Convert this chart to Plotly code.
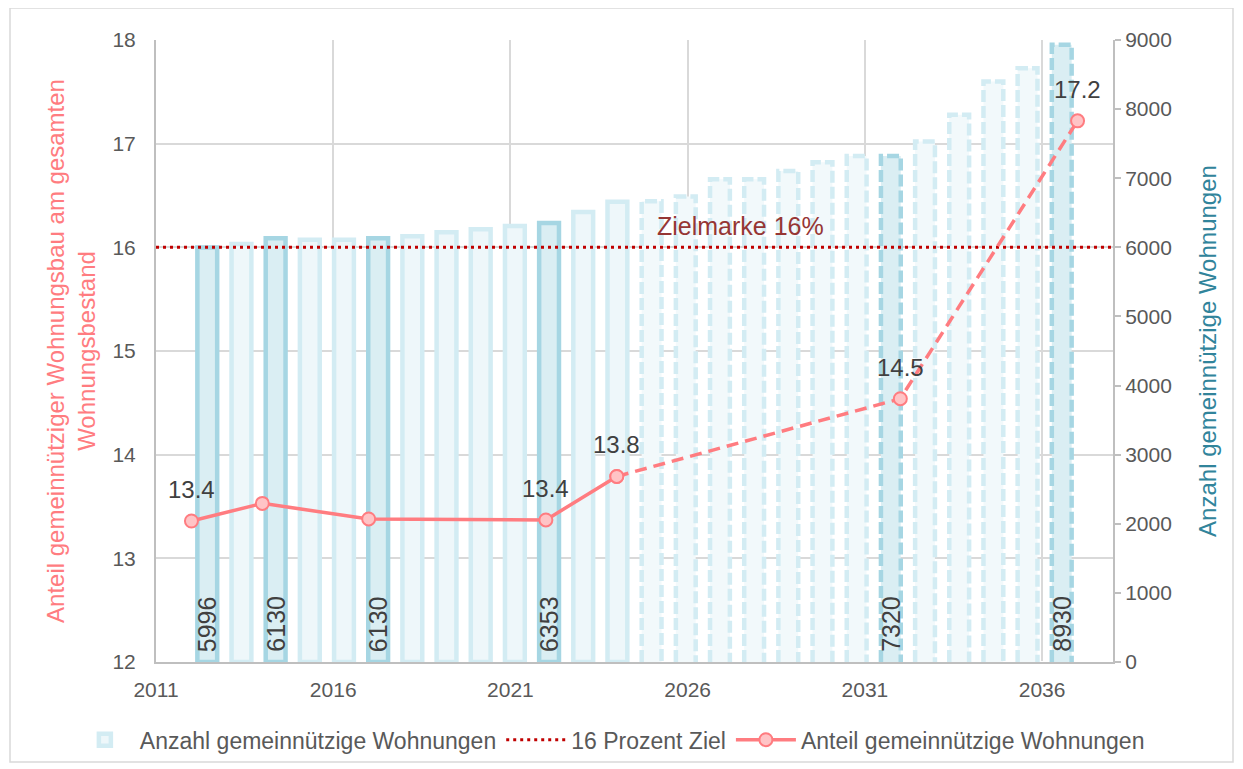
import plotly.graph_objects as go

# ---------------- data ----------------
years = list(range(2012, 2038))
anzahl = [5996, 6050, 6130, 6110, 6110, 6130, 6160, 6220, 6260, 6310, 6353, 6510, 6660,
          6665, 6735, 6985, 6985, 7105, 7230, 7320, 7320, 7530, 7920, 8400, 8590, 8930]
highlight_years = [2012, 2014, 2017, 2022, 2032, 2037]
last_actual_year = 2024

anteil_years = [2012, 2014, 2017, 2022, 2024, 2032, 2037]
anteil = [13.36, 13.53, 13.38, 13.37, 13.79, 14.54, 17.22]
anteil_label_years = [2012, 2022, 2024, 2032, 2037]

ziel_x = [2011, 2038]
ziel_y = [16, 16]

x_ticks = [2011, 2016, 2021, 2026, 2031, 2036]

# ---------------- styles ----------------
FONT = "Liberation Sans, Arial, sans-serif"
GREY_TXT = "#595959"
GRID = "#D9D9D9"
AXIS = "#BFBFBF"
FILL_N = "#EEF7FA"
LINE_N = "#D3ECF3"
FILL_H = "#DAEEF3"
LINE_H = "#A6D6E3"
PINK = "#FF7C80"
CLEAR = "rgba(0,0,0,0)"
BAR_W = 0.58
BAR_LW = 4.5

# page body has an 8px margin -> figure is drawn 8px in from the window edge
W, H = 1235, 761
ML, MT, MR, MB = 148, 32, 130, 107

fig = go.Figure()

def subset(cond):
    xs, ys = [], []
    for y, v in zip(years, anzahl):
        if cond(y):
            xs.append(y)
            ys.append(v)
    return xs, ys

groups = [
    (lambda y: y <= last_actual_year and y not in highlight_years, FILL_N, LINE_N, True, True),
    (lambda y: y <= last_actual_year and y in highlight_years, FILL_H, LINE_H, True, False),
    (lambda y: y > last_actual_year and y not in highlight_years, "#F2F9FB", LINE_N, False, False),
    (lambda y: y > last_actual_year and y in highlight_years, FILL_H, LINE_H, False, False),
]

dashed_outlines = []
for cond, fc, lc, solid, legend in groups:
    xs, ys = subset(cond)
    fig.add_trace(go.Bar(
        x=xs, y=ys, width=BAR_W, xaxis="x", yaxis="y",
        marker=dict(color=fc, line=dict(color=lc, width=BAR_LW if solid else 0)),
        name="Anzahl gemeinnützige Wohnungen", showlegend=legend,
        hoverinfo="x+y",
    ))
    if not solid:
        ox, oy = [], []
        for x, v in zip(xs, ys):
            ox += [x - BAR_W / 2, x - BAR_W / 2, x + BAR_W / 2, x + BAR_W / 2, None]
            oy += [0, v, v, 0, None]
        dashed_outlines.append((ox, oy, lc))

for ox, oy, lc in dashed_outlines:
    fig.add_trace(go.Scatter(
        x=ox, y=oy, xaxis="x", yaxis="y", mode="lines",
        line=dict(color=lc, width=BAR_LW, dash="12px,4px"),
        showlegend=False, hoverinfo="skip",
    ))

# target line
fig.add_trace(go.Scatter(
    x=ziel_x, y=ziel_y, xaxis="x2", yaxis="y2", mode="lines",
    line=dict(color="#C00000", width=3, dash="3px,4px"),
    name="16 Prozent Ziel",
))

# share line (solid part, dashed part)
solid_x = [x for x in anteil_years if x <= last_actual_year]
solid_y = [v for x, v in zip(anteil_years, anteil) if x <= last_actual_year]
dash_x = [x for x in anteil_years if x >= last_actual_year]
dash_y = [v for x, v in zip(anteil_years, anteil) if x >= last_actual_year]
marker = dict(size=13, color="#FFC4C6", line=dict(color=PINK, width=2))

fig.add_trace(go.Scatter(
    x=dash_x, y=dash_y, xaxis="x2", yaxis="y2", mode="lines+markers",
    line=dict(color=PINK, width=3.5, dash="12px,7px"), marker=marker,
    showlegend=False, name="Anteil gemeinnützige Wohnungen",
))
fig.add_trace(go.Scatter(
    x=solid_x, y=solid_y, xaxis="x2", yaxis="y2", mode="lines+markers",
    line=dict(color=PINK, width=3.5), marker=marker,
    name="Anteil gemeinnützige Wohnungen",
))

annotations = []
# bar value labels
for y, v in zip(years, anzahl):
    if y in highlight_years:
        annotations.append(dict(
            x=y, y=0, xref="x", yref="y", text=str(v), showarrow=False,
            textangle=-90, xanchor="center", yanchor="bottom", yshift=8,
            font=dict(family=FONT, size=25, color="#404040"),
        ))
# line value labels
for x, v in zip(anteil_years, anteil):
    if x in anteil_label_years:
        annotations.append(dict(
            x=x, y=v, xref="x2", yref="y2", text=f"{v:.1f}", showarrow=False,
            xanchor="center", yanchor="bottom", yshift=16,
            font=dict(family=FONT, size=24, color="#404040"),
        ))
annotations.append(dict(
    x=2027.5, y=16, xref="x2", yref="y2", text="Zielmarke 16%", showarrow=False,
    xanchor="center", yanchor="bottom", yshift=5,
    font=dict(family=FONT, size=25, color="#963634"),
))

PW = W - ML - MR
PH = H - MT - MB

fig.update_layout(
    width=W, height=H,
    margin=dict(l=ML, r=MR, t=MT, b=MB, autoexpand=False),
    paper_bgcolor="white", plot_bgcolor="white",
    font=dict(family=FONT, size=21, color=GREY_TXT),
    barmode="overlay",
    xaxis=dict(range=[2010.5, 2038.5], visible=False, fixedrange=True),
    yaxis=dict(
        range=[0, 9000], dtick=1000, side="right", showgrid=False,
        showline=True, linecolor=AXIS, linewidth=2,
        ticks="outside", ticklen=6, tickcolor=AXIS, tickwidth=2,
        tickfont=dict(size=21, color=GREY_TXT),
        title=dict(text="Anzahl gemeinnützige Wohnungen",
                   font=dict(size=24, color="#31849B"), standoff=28),
    ),
    xaxis2=dict(
        overlaying="x", anchor="y2", side="bottom", range=[2011, 2038],
        tickvals=x_ticks, showgrid=True, gridcolor=GRID, gridwidth=2,
        showline=True, linecolor=AXIS, linewidth=2,
        ticks="outside", ticklen=8, tickcolor=CLEAR,
        tickfont=dict(size=21, color=GREY_TXT),
    ),
    yaxis2=dict(
        overlaying="y", side="left", range=[12, 18], dtick=1,
        showgrid=True, gridcolor=GRID, gridwidth=2,
        showline=True, linecolor=AXIS, linewidth=2,
        ticks="outside", ticklen=14, tickcolor=CLEAR,
        tickfont=dict(size=21, color=GREY_TXT),
        title=dict(text="Anteil gemeinnütziger Wohnungsbau am gesamten<br>Wohnungsbestand",
                   font=dict(size=24, color=PINK), standoff=10),
    ),
    legend=dict(orientation="h", x=-0.09, xanchor="left",
                y=-0.125, yanchor="middle",
                font=dict(size=23, color=GREY_TXT), bgcolor="rgba(0,0,0,0)",
                itemwidth=60),
    annotations=annotations,
    shapes=[dict(type="rect", xref="paper", yref="paper",
                 x0=(2 - ML) / PW, x1=(W - 10 - ML) / PW,
                 y0=-(MB - 7) / PH, y1=1 + (MT) / PH,
                 line=dict(color="#D9D9D9", width=1.5), layer="below")],
)

fig.write_html("out.html")
